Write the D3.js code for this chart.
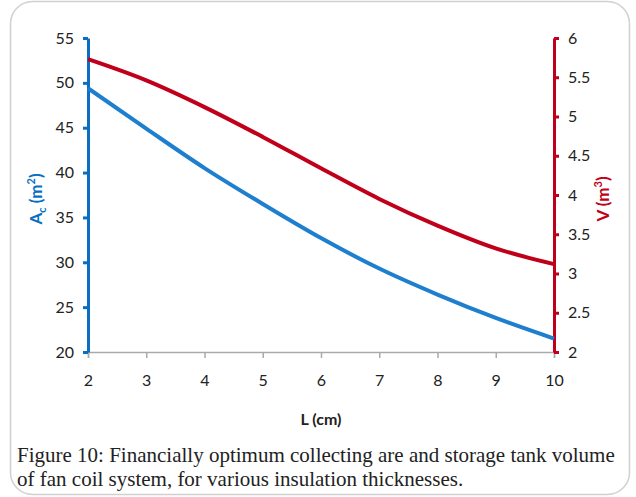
<!DOCTYPE html>
<html><head><meta charset="utf-8">
<script src="https://cdn.jsdelivr.net/npm/d3@7"></script>
<style>body{margin:0;background:#fff;} svg{display:block;}</style>
</head><body>
<svg id="c" width="636" height="497"></svg>
<script>
const L = [2,3,4,5,6,7,8,9,10];
const Ac = [49.4,44.9,40.5,36.5,32.7,29.3,26.4,23.8,21.5];
const V = [5.73,5.46,5.12,4.74,4.34,3.95,3.61,3.32,3.12];
const leftTicks = [20,25,30,35,40,45,50,55];
const rightTicks = [2,2.5,3,3.5,4,4.5,5,5.5,6];
const xTicks = [2,3,4,5,6,7,8,9,10];

const svg = d3.select("#c");
svg.append("rect").attr("x",10.5).attr("y",1.5).attr("width",619).attr("height",493)
  .attr("rx",22).attr("fill","#fff").attr("stroke","#d0d0d0").attr("stroke-width",1.5);

const x = d3.scaleLinear().domain([2,10]).range([88,554]);
const yL = d3.scaleLinear().domain([20,55]).range([352,38]);
const yR = d3.scaleLinear().domain([2,6]).range([352,38]);
const tickFont = "Lato, 'Open Sans', sans-serif";

// x axis
const gx = svg.append("g").attr("transform","translate(0,352)")
  .call(d3.axisBottom(x).tickValues(xTicks).tickSize(6).tickPadding(17).tickFormat(d3.format("d")));
gx.select(".domain").attr("stroke","#aaa").attr("stroke-width",1.5);
gx.selectAll(".tick line").attr("stroke","#aaa").attr("stroke-width",1.5);
gx.selectAll("text").attr("font-family",tickFont).attr("font-size",16).attr("fill","#222");

// left axis
const gl = svg.append("g").attr("transform","translate(88,0)")
  .call(d3.axisLeft(yL).tickValues(leftTicks).tickSize(5).tickPadding(9).tickSizeOuter(0));
gl.select(".domain").attr("stroke","#0a6fc2").attr("stroke-width",3);
gl.selectAll(".tick line").attr("stroke","#0a6fc2").attr("stroke-width",3);
gl.selectAll("text").attr("font-family",tickFont).attr("font-size",16).attr("fill","#222");

// right axis
const gr = svg.append("g").attr("transform","translate(554,0)")
  .call(d3.axisRight(yR).tickValues(rightTicks).tickSize(5).tickPadding(9).tickSizeOuter(0).tickFormat(d=>String(d)));
gr.select(".domain").attr("stroke","#c0001a").attr("stroke-width",3);
gr.selectAll(".tick line").attr("stroke","#c0001a").attr("stroke-width",3);
gr.selectAll("text").attr("font-family",tickFont).attr("font-size",16).attr("fill","#222");

// series
const lineA = d3.line().x((d,i)=>x(L[i])).y(d=>yL(d)).curve(d3.curveMonotoneX);
const lineV = d3.line().x((d,i)=>x(L[i])).y(d=>yR(d)).curve(d3.curveMonotoneX);
svg.append("path").attr("d",lineV(V)).attr("fill","none").attr("stroke","#c0001a").attr("stroke-width",4);
svg.append("path").attr("d",lineA(Ac)).attr("fill","none").attr("stroke","#1e7fcf").attr("stroke-width",4);

// axis titles
const tl = svg.append("text").attr("transform","translate(42,199) rotate(-90)")
  .attr("text-anchor","middle").attr("font-family",tickFont).attr("font-weight","bold")
  .attr("font-size",17).attr("fill","#0a6fc2");
tl.append("tspan").text("A");
tl.append("tspan").attr("font-size",11).attr("dy",4).text("c");
tl.append("tspan").attr("dy",-4).text(" (m");
tl.append("tspan").attr("font-size",11).attr("dy",-7).text("2");
tl.append("tspan").attr("dy",7).text(")");

const tr = svg.append("text").attr("transform","translate(609,199) rotate(-90)")
  .attr("text-anchor","middle").attr("font-family",tickFont).attr("font-weight","bold")
  .attr("font-size",17).attr("fill","#c0001a");
tr.append("tspan").text("V (m");
tr.append("tspan").attr("font-size",11).attr("dy",-7).text("3");
tr.append("tspan").attr("dy",7).text(")");

svg.append("text").attr("x",321).attr("y",425).attr("text-anchor","middle")
  .attr("font-family",tickFont).attr("font-weight","bold").attr("font-size",16).attr("fill","#222")
  .text("L (cm)");

// caption
const cap = svg.append("text").attr("font-family","'Liberation Serif', 'DejaVu Serif', serif")
  .attr("font-size",21).attr("fill","#222");
cap.append("tspan").attr("x",17).attr("y",462).text("Figure 10: Financially optimum collecting are and storage tank volume");
cap.append("tspan").attr("x",17).attr("y",486).text("of fan coil system, for various insulation thicknesses.");
</script>
</body></html>
